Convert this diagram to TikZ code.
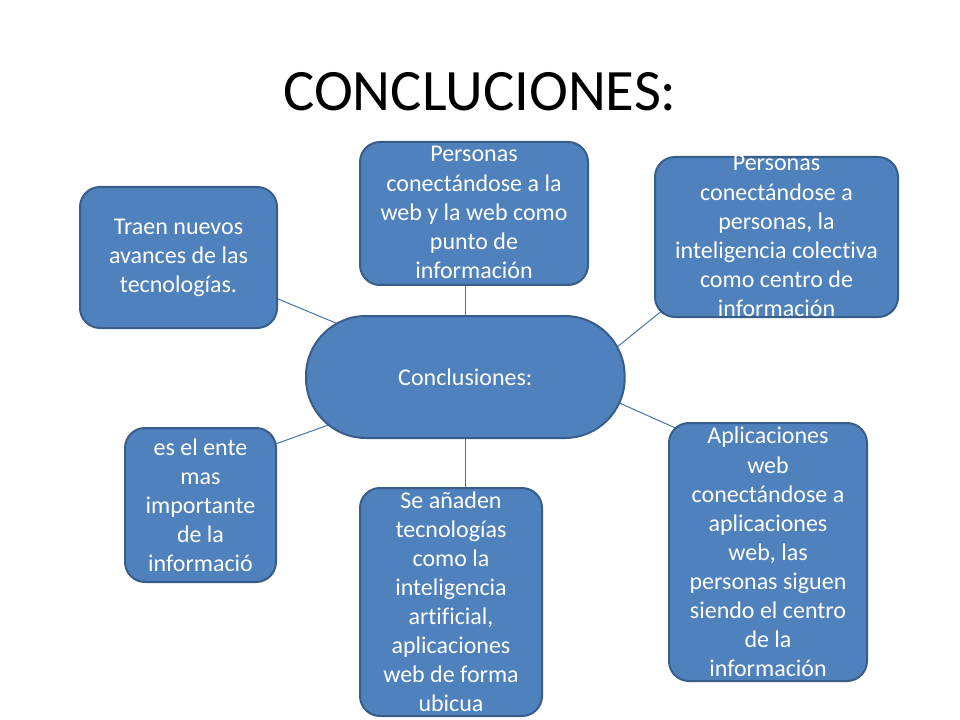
\documentclass[tikz,border=0pt]{standalone}
\usepackage{fontspec}
\setmainfont[Ligatures=NoCommon]{Carlito}
\usetikzlibrary{calc,backgrounds}
\definecolor{boxfill}{HTML}{4F81BD}
\definecolor{boxline}{HTML}{385D8A}
\tikzset{
  box/.style={draw=boxline, fill=boxfill, line width=1.5pt, rounded corners=15pt, inner sep=0pt, anchor=north west},
  txt/.style={text=white, align=center, inner sep=0pt, font=\fontsize{18}{21.8}\selectfont},
  conn/.style={draw=boxfill!90!black, line width=0.75pt},
}
\begin{document}
\begin{tikzpicture}[x=0.75pt,y=-0.75pt]
\useasboundingbox (0,0) rectangle (960,720);
\node[font=\fontsize{44}{52}\selectfont, inner sep=0pt] (title) at (480,92) {CONCLUCIONES:};
% center
\node[box, rounded corners=45pt, minimum width=239pt, minimum height=91.5pt] (c) at (305,315) {};
\node[txt] (ct) at (c.center) {Conclusiones:};
% top left
\node[box, minimum width=147.75pt, minimum height=105.75pt] (tl) at (79,186) {};
\node[txt] (tlt) at (tl.center) {Traen nuevos\\avances de las\\tecnologías.};
% top center
\node[box, minimum width=171pt, minimum height=107.25pt] (tc) at (359,141) {};
\node[txt] (tct) at ($(tc.center)+(0,-1)$) {Personas\\conectándose a la\\web y la web como\\punto de\\información};
% top right
\node[box, minimum width=182.25pt, minimum height=120pt] (tr) at (654,156) {};
\node[txt] (trt) at ($(tr.center)+(0,-1)$) {Personas\\conectándose a\\personas, la\\inteligencia colectiva\\como centro de\\información};
% left lower
\node[box, minimum width=113.25pt, minimum height=115.5pt] (ll) at (124,427) {};
\node[txt] (llt) at (ll.center) {es el ente\\mas\\importante\\de la\\informació};
% bottom center
\node[box, minimum width=136.5pt, minimum height=171pt] (bc) at (359,487) {};
\node[txt] (bct) at (bc.center) {Se añaden\\tecnologías\\como la\\inteligencia\\artificial,\\aplicaciones\\web de forma\\ubicua};
% bottom right
\node[box, minimum width=148.5pt, minimum height=193.5pt] (br) at (668,422) {};
\node[txt] (brt) at (br.center) {Aplicaciones\\web\\conectándose a\\aplicaciones\\web, las\\personas siguen\\siendo el centro\\de la\\información};
\begin{pgfonlayer}{background}
  \draw[conn] (c.center) -- (tl.center);
  \draw[conn] (c.center) -- (c.center |- tc.center);
  \draw[conn] ($(c.center)+(96,15)$) -- ($(tr.south west)+(20,-17)$);
  \draw[conn] ($(c.center)+(96,0)$) -- ($(br.north west)+(32,17)$);
  \draw[conn] (c.center) -- (c.center |- bc.center);
  \draw[conn] ($(c.center)+(-84,29)$) -- ($(ll.north east)+(-35,29)$);
\end{pgfonlayer}
\end{tikzpicture}
\end{document}
